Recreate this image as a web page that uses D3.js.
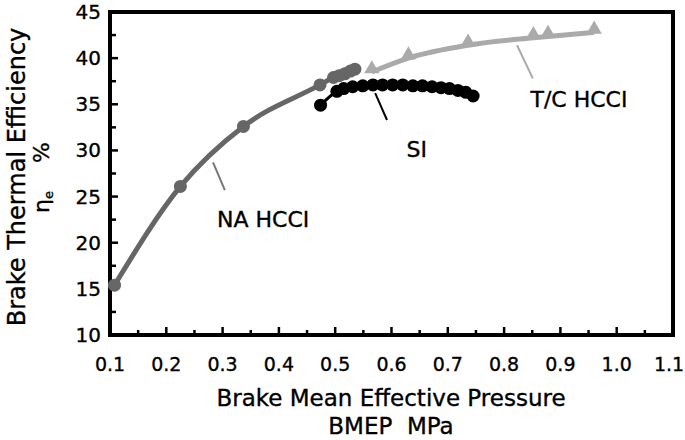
<!DOCTYPE html>
<html><head><meta charset="utf-8">
<script src="https://cdn.jsdelivr.net/npm/d3@7/dist/d3.min.js"></script>
<style>body{margin:0;background:#fff}svg{display:block}text{font-family:"DejaVu Sans",sans-serif;fill:#000;stroke:#000;stroke-width:0.35px}</style>
</head><body>
<svg id="c" width="685" height="440"></svg>
<script>
const naX = [0.108, 0.225, 0.337, 0.473, 0.497, 0.507, 0.517, 0.527, 0.535];
const naY = [15.4, 26.1, 32.6, 37.1, 37.9, 38.1, 38.3, 38.6, 38.8];
const siX = [0.474, 0.503, 0.515, 0.531, 0.549, 0.567, 0.584, 0.602, 0.620, 0.638, 0.655, 0.672, 0.688, 0.703, 0.718, 0.732, 0.745];
const siY = [34.9, 36.4, 36.7, 36.9, 37.0, 37.1, 37.1, 37.1, 37.1, 37.0, 37.0, 36.9, 36.8, 36.7, 36.5, 36.3, 35.9];
const tcX = [0.565, 0.630, 0.736, 0.852, 0.878, 0.960];
const tcY = [38.5, 40.0, 41.4, 42.2, 42.35, 42.8];
const xTicks = [0.1,0.2,0.3,0.4,0.5,0.6,0.7,0.8,0.9,1.0,1.1];
const yTicks = [10,15,20,25,30,35,40,45];
const labels = [
  {name:"NA HCCI", x:0.372, y:21.7, lx1:0.283, ly1:28.7, lx2:0.304, ly2:25.7, color:"#777"},
  {name:"SI", x:0.645, y:29.3, lx1:0.571, ly1:36.2, lx2:0.592, ly2:33.3, color:"#000"},
  {name:"T/C HCCI", x:0.933, y:34.7, lx1:0.823, ly1:41.4, lx2:0.851, ly2:37.8, color:"#aaa"}
];

const svg = d3.select("#c");
const L=110, R=673, T=12, B=335;
const x = d3.scaleLinear().domain([0.1,1.1]).range([L,R]);
const y = d3.scaleLinear().domain([10,45]).range([B,T]);

const g = svg.append("g");
d3.range(0.1,1.1001,0.05).forEach((v,i)=>{
  const len = i%2===0?8:5;
  g.append("line").attr("x1",x(v)).attr("x2",x(v)).attr("y1",B).attr("y2",B-len).attr("stroke","#000").attr("stroke-width",2.5);
});
d3.range(10,45.001,2.5).forEach((v,i)=>{
  const len = i%2===0?8:6;
  g.append("line").attr("x1",L).attr("x2",L+len).attr("y1",y(v)).attr("y2",y(v)).attr("stroke","#000").attr("stroke-width",2.5);
});
svg.append("rect").attr("x",L).attr("y",T).attr("width",R-L).attr("height",B-T).attr("fill","none").attr("stroke","#000").attr("stroke-width",4);

svg.selectAll(".xt").data(xTicks).enter().append("text")
  .attr("x",(d,i)=>i===xTicks.length-1?Math.min(x(d),669):x(d)).attr("y",371).attr("text-anchor","middle").attr("font-size",19).text(d=>d.toFixed(1));
svg.selectAll(".yt").data(yTicks).enter().append("text")
  .attr("x",101).attr("y",d=>y(d)+7).attr("text-anchor","end").attr("font-size",20).text(d=>d);

svg.append("text").attr("x",391).attr("y",406).attr("text-anchor","middle").attr("font-size",23).text("Brake Mean Effective Pressure");
svg.append("text").attr("x",391).attr("y",434).attr("text-anchor","middle").attr("font-size",23).text("BMEP\u00a0\u00a0MPa");
svg.append("text").attr("transform","translate(25,177) rotate(-90)").attr("text-anchor","middle").attr("font-size",24).text("Brake Thermal Efficiency");
const yt2 = svg.append("text").attr("transform","translate(49,213) rotate(-90)").attr("text-anchor","start").attr("font-size",22);
yt2.append("tspan").text("η");
yt2.append("tspan").attr("font-size",13).attr("dy",4).text("e");
yt2.append("tspan").attr("dy",-4).text("\u00a0\u00a0\u00a0\u00a0%");

const line = d3.line().x(d=>x(d[0])).y(d=>y(d[1])).curve(d3.curveMonotoneX);
const na = naX.map((v,i)=>[v,naY[i]]);
const si = siX.map((v,i)=>[v,siY[i]]);
const tc = tcX.map((v,i)=>[v,tcY[i]]);

svg.append("path").attr("d",line(na)).attr("fill","none").attr("stroke","#666").attr("stroke-width",5);
svg.selectAll(".na").data(na).enter().append("circle").attr("cx",d=>x(d[0])).attr("cy",d=>y(d[1])).attr("r",6.5).attr("fill","#666");
svg.append("path").attr("d",line(tc)).attr("fill","none").attr("stroke","#aaa").attr("stroke-width",5);
const tri = d3.symbol().type(d3.symbolTriangle).size(100);
svg.selectAll(".tc").data(tc).enter().append("path").attr("d",tri)
  .attr("transform",d=>`translate(${x(d[0])},${y(d[1])-3})`).attr("fill","#aaa");
svg.append("path").attr("d",line(si)).attr("fill","none").attr("stroke","#000").attr("stroke-width",3);
svg.selectAll(".si").data(si).enter().append("circle").attr("cx",d=>x(d[0])).attr("cy",d=>y(d[1])).attr("r",6.5).attr("fill","#000");

labels.forEach(l=>{
  svg.append("line").attr("x1",x(l.lx1)).attr("y1",y(l.ly1)).attr("x2",x(l.lx2)).attr("y2",y(l.ly2)).attr("stroke",l.color).attr("stroke-width",2);
  svg.append("text").attr("x",x(l.x)).attr("y",y(l.y)).attr("text-anchor","middle").attr("font-size",22).text(l.name);
});
</script>
</body></html>
